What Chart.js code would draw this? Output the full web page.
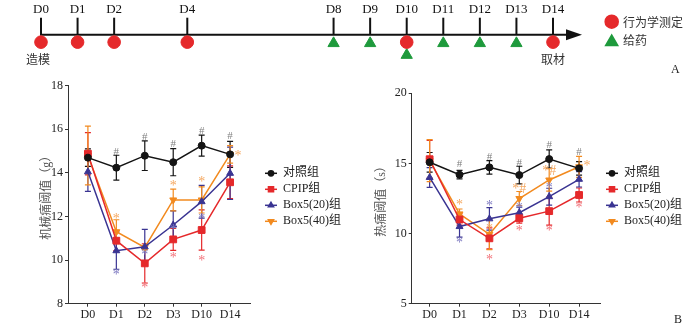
<!DOCTYPE html>
<html>
<head>
<meta charset="utf-8">
<script src="https://cdn.jsdelivr.net/npm/chart.js@4"></script>
<style>
  body { margin: 0; background: #fff; width: 700px; height: 329px; position: relative; overflow: hidden; }
  canvas { position: absolute; }
</style>
</head>
<body>
<canvas id="timeline" width="700" height="75" style="left:0;top:0"></canvas>
<canvas id="mech" width="350" height="254" style="left:0;top:75px"></canvas>
<canvas id="heat" width="350" height="254" style="left:350px;top:75px"></canvas>
<script>
// timeline (panel A)
const timelineDays = [0, 1, 2, 4, 8, 9, 10, 11, 12, 13, 14];
const testDays = [0, 1, 2, 4, 10, 14];
const doseDays = [8, 9, 10, 11, 12, 13];

// panel B
const dayLabels = ['D0', 'D1', 'D2', 'D3', 'D10', 'D14'];
const groupNames = ['对照组', 'CPIP组', 'Box5(20)组', 'Box5(40)组'];

const mechControl = [14.7, 14.24, 14.79, 14.49, 15.25, 14.85];
const mechControlErr = [0.4, 0.57, 0.68, 0.62, 0.48, 0.6];
const mechCpip = [14.88, 10.89, 9.85, 10.95, 11.38, 13.57];
const mechCpipErr = [0.97, 0.45, 0.9, 0.5, 0.92, 0.75];
const mechBox20 = [14.05, 10.43, 10.61, 11.61, 12.68, 13.98];
const mechBox20Err = [0.9, 0.85, 0.8, 0.65, 0.75, 1.2];
const mechBox40 = [14.8, 11.3, 10.58, 12.76, 12.76, 14.85];
const mechBox40Err = [1.35, 0.55, 0.1, 0.5, 0.6, 0.4];

const heatControl = [15.08, 14.2, 14.72, 14.17, 15.31, 14.65];
const heatControlErr = [0.7, 0.3, 0.48, 0.63, 0.65, 0.48];
const heatCpip = [15.3, 11.0, 9.66, 11.09, 11.6, 12.75];
const heatCpipErr = [1.35, 0.4, 0.75, 0.35, 1.0, 0.5];
const heatBox20 = [14.0, 10.5, 11.05, 11.49, 12.63, 13.87];
const heatBox20Err = [0.7, 0.75, 0.8, 0.4, 0.6, 0.55];
const heatBox40 = [15.2, 11.4, 9.95, 12.5, 13.82, 14.76];
const heatBox40Err = [1.5, 0.35, 1.1, 0.5, 0.8, 0.75];

// significance marks (# vs control, * vs CPIP etc), value = where the mark sits
const mechHash = [null, 15.02, 15.69, 15.36, 15.97, 15.74];
const mechStarCpip = [null, null, 8.83, 10.19, 10.04, null];
const mechStarBox20 = [null, 9.39, 10.31, 11.45, 11.99, null];
const mechStarBox40 = [null, 12.0, null, 13.5, 13.67, 14.85];

const heatHash = [null, 15.0, 15.55, 15.12, 16.38, 15.9];
const heatStarCpip = [null, null, 8.28, 10.3, 10.32, 11.96];
const heatStarBox20 = [null, 9.49, 12.1, 11.96, 13.4, null];
const heatStarBox40 = [null, 12.2, 10.49, 13.3, 14.58, 14.96];
const heatBox40Text = ['', '*', '*', '*#', '*#', '*'];

const serif = '"Liberation Serif", "Noto Sans CJK SC", serif';
const cjk = '"Noto Sans CJK SC", sans-serif';

const colors = ['#141414', '#e5292b', '#3a3492', '#f28a1f'];
const markColors = ['#808080', '#f2727a', '#7f7bc2', '#f5a860'];
const styles = [
  { pointStyle: 'circle', pointRadius: 3.5, pointRotation: 0 },
  { pointStyle: 'rect', pointRadius: 4.8, pointRotation: 0 },
  { pointStyle: 'triangle', pointRadius: 4, pointRotation: 0 },
  { pointStyle: 'triangle', pointRadius: 4, pointRotation: 180 },
];

function dot(ctx, style, r, rot, x, y) {
  Chart.helpers.drawPoint(ctx, { pointStyle: style, radius: r, rotation: rot, borderWidth: 1 }, x, y);
}

// ---- timeline ----
const timelineDecor = {
  id: 'timelineDecor',
  beforeDatasetsDraw(chart) {
    const { ctx, scales: { x, y } } = chart;
    const y0 = y.getPixelForValue(0);
    const x0 = x.getPixelForValue(0), x14 = x.getPixelForValue(14);
    ctx.save();
    ctx.strokeStyle = '#111';
    ctx.fillStyle = '#111';
    ctx.lineWidth = 2;
    ctx.beginPath();
    ctx.moveTo(x0 - 1, y0);
    ctx.lineTo(x14 + 16, y0);
    ctx.stroke();
    ctx.beginPath();
    ctx.moveTo(x14 + 29, y0);
    ctx.lineTo(x14 + 13, y0 - 5.5);
    ctx.lineTo(x14 + 13, y0 + 5.5);
    ctx.closePath();
    ctx.fill();
    ctx.font = '13px ' + serif;
    ctx.textAlign = 'center';
    ctx.textBaseline = 'middle';
    timelineDays.forEach(d => {
      const px = x.getPixelForValue(d);
      ctx.beginPath();
      ctx.moveTo(px, y0);
      ctx.lineTo(px, y0 - 17);
      ctx.stroke();
      ctx.fillText('D' + d, px, 9.5);
    });
    ctx.fillStyle = '#333';
    ctx.font = '12px ' + cjk;
    ctx.fillText('造模', x0 - 3, 59);
    ctx.fillText('取材', x14, 59);
    // legend
    ctx.textAlign = 'left';
    ctx.fillText('行为学测定', 623, 22);
    ctx.fillText('给药', 623, 40);
    ctx.fillStyle = '#e5292b';
    ctx.strokeStyle = '#e5292b';
    dot(ctx, 'circle', 6.3, 0, 611.7, 21.7);
    ctx.fillStyle = '#1e9a3c';
    ctx.strokeStyle = '#1e9a3c';
    dot(ctx, 'triangle', 6.5, 0, 611.7, 42);
    ctx.fillStyle = '#222';
    ctx.font = '12px ' + serif;
    ctx.fillText('A', 671, 70);
    ctx.restore();
  }
};

new Chart(document.getElementById('timeline'), {
  type: 'scatter',
  data: {
    datasets: [
      {
        data: testDays.map(d => ({ x: d, y: 0.62 })),
        pointStyle: 'circle', pointRadius: 6.3, clip: false,
        backgroundColor: '#e5292b', borderColor: '#e5292b'
      },
      {
        // on a test day the triangle goes below the circle
        data: doseDays.map(d => ({ x: d, y: testDays.includes(d) ? 1.7 : 0.72 })),
        pointStyle: 'triangle', pointRadius: 6.5, clip: false,
        backgroundColor: '#1e9a3c', borderColor: '#1e9a3c'
      }
    ]
  },
  options: {
    responsive: false,
    animation: false,
    events: [],
    layout: { padding: { left: 41, right: 147, top: 0, bottom: 0 } },
    plugins: { legend: { display: false }, tooltip: { enabled: false } },
    scales: {
      x: { type: 'linear', min: 0, max: 14, display: false },
      y: { type: 'linear', min: -34 / 15, max: 41 / 15, reverse: true, display: false }
    }
  },
  plugins: [timelineDecor]
});

// ---- panel B charts ----
const errorBars = {
  id: 'errorBars',
  beforeDatasetsDraw(chart) {
    const { ctx, scales: { x, y } } = chart;
    ctx.save();
    ctx.lineWidth = 1.2;
    chart.data.datasets.forEach(ds => {
      ctx.strokeStyle = ds.borderColor;
      ds.data.forEach((p, j) => {
        const e = ds.errors[j];
        const px = x.getPixelForValue(p.x);
        const top = y.getPixelForValue(p.y + e), bot = y.getPixelForValue(p.y - e);
        ctx.beginPath();
        ctx.moveTo(px, top); ctx.lineTo(px, bot);
        ctx.moveTo(px - 3, top); ctx.lineTo(px + 3, top);
        ctx.moveTo(px - 3, bot); ctx.lineTo(px + 3, bot);
        ctx.stroke();
      });
    });
    ctx.restore();
  },
  afterDatasetsDraw(chart) {
    const { ctx, scales: { x, y } } = chart;
    ctx.save();
    ctx.textAlign = 'center';
    ctx.textBaseline = 'alphabetic';
    chart.data.datasets.forEach(ds => {
      ctx.fillStyle = ds.markColor;
      ds.marks.forEach((v, j) => {
        if (v == null) return;
        let txt = ds.markText ? ds.markText[j] : ds.markChar;
        let px = x.getPixelForValue(j);
        if (ds.markSide && j === ds.markSide) px += 8;
        ctx.font = (txt === '#' ? '11px ' : '14px ') + serif;
        ctx.fillText(txt, px, y.getPixelForValue(v) + (txt === '#' ? 4 : 6));
      });
    });
    ctx.restore();
  }
};

const sideLegend = {
  id: 'sideLegend',
  afterDraw(chart, args, o) {
    const ctx = chart.ctx;
    ctx.save();
    chart.data.datasets.forEach((ds, i) => {
      const y = o.top + i * o.gap;
      ctx.strokeStyle = ds.borderColor;
      ctx.fillStyle = ds.borderColor;
      ctx.lineWidth = 1.5;
      ctx.beginPath();
      ctx.moveTo(o.left, y);
      ctx.lineTo(o.left + 12, y);
      ctx.stroke();
      dot(ctx, ds.pointStyle, ds.pointRadius * 0.75, ds.pointRotation, o.left + 6, y);
      ctx.fillStyle = '#222';
      ctx.font = '12px ' + serif;
      ctx.textAlign = 'left';
      ctx.textBaseline = 'middle';
      ctx.fillText(ds.label, o.left + 18, y);
    });
    if (o.tag) {
      ctx.font = '12px ' + serif;
      ctx.fillStyle = '#222';
      ctx.fillText(o.tag, o.tagX, o.tagY);
    }
    ctx.restore();
  }
};

function series(values, errors, i, marks, extra) {
  return Object.assign({
    label: groupNames[i],
    data: values.map((v, j) => ({ x: j, y: v })),
    errors: errors,
    marks: marks,
    markChar: i === 0 ? '#' : '*',
    markColor: markColors[i],
    borderColor: colors[i],
    backgroundColor: colors[i],
    borderWidth: 1.5,
    pointBorderWidth: 1,
    pointRotation: styles[i].pointRotation,
    pointStyle: styles[i].pointStyle,
    pointRadius: styles[i].pointRadius
  }, extra || {});
}

function panel(id, datasets, yMin, yMax, yStep, title, o) {
  return new Chart(document.getElementById(id), {
    type: 'line',
    data: { datasets: datasets },
    options: {
      responsive: false,
      animation: false,
      events: [],
      layout: { padding: { left: 0, right: 100, top: o.top, bottom: 0 } },
      plugins: {
        legend: { display: false },
        tooltip: { enabled: false },
        sideLegend: { left: o.legendLeft, top: 98.3, gap: 16, tag: o.tag, tagX: o.tagX, tagY: o.tagY }
      },
      scales: {
        x: {
          type: 'linear', min: o.xMin, max: 5.7,
          afterBuildTicks: s => { s.ticks = dayLabels.map((_, i) => ({ value: i })); },
          afterFit: s => { s.height = 25.3; },
          ticks: { callback: v => dayLabels[v], color: '#222', padding: 1, font: { family: serif, size: 12 }, maxRotation: 0 },
          grid: { drawOnChartArea: false, tickLength: 3, color: '#333' },
          border: { color: '#333', width: 1 }
        },
        y: {
          min: yMin, max: yMax,
          ticks: { stepSize: yStep, color: '#222', padding: 2, font: { family: serif, size: 12 } },
          afterFit: s => { s.width = o.axisX; },
          grid: { drawOnChartArea: false, tickLength: 3, color: '#333' },
          border: { color: '#333', width: 1 },
          title: { display: true, text: title, color: '#555', font: { family: serif, size: 12 }, padding: { top: o.titlePad, bottom: 0 } }
        }
      }
    },
    plugins: [errorBars, sideLegend]
  });
}

panel('mech', [
  series(mechControl, mechControlErr, 0, mechHash),
  series(mechCpip, mechCpipErr, 1, mechStarCpip),
  series(mechBox20, mechBox20Err, 2, mechStarBox20),
  series(mechBox40, mechBox40Err, 3, mechStarBox40, { markSide: 5 })
], 8, 18, 2, '机械痛阈值（g）', { top: 10.7, axisX: 68, xMin: -0.7, titlePad: 40, legendLeft: 265 });

panel('heat', [
  series(heatControl, heatControlErr, 0, heatHash),
  series(heatCpip, heatCpipErr, 1, heatStarCpip),
  series(heatBox20, heatBox20Err, 2, heatStarBox20),
  series(heatBox40, heatBox40Err, 3, heatStarBox40, { markSide: 5, markText: heatBox40Text })
], 5, 20, 5, '热痛阈值（s）', { top: 18.3, axisX: 61.7, xMin: -0.6, titlePad: 24.3, legendLeft: 256, tag: 'B', tagX: 324, tagY: 245 });
</script>
</body>
</html>
